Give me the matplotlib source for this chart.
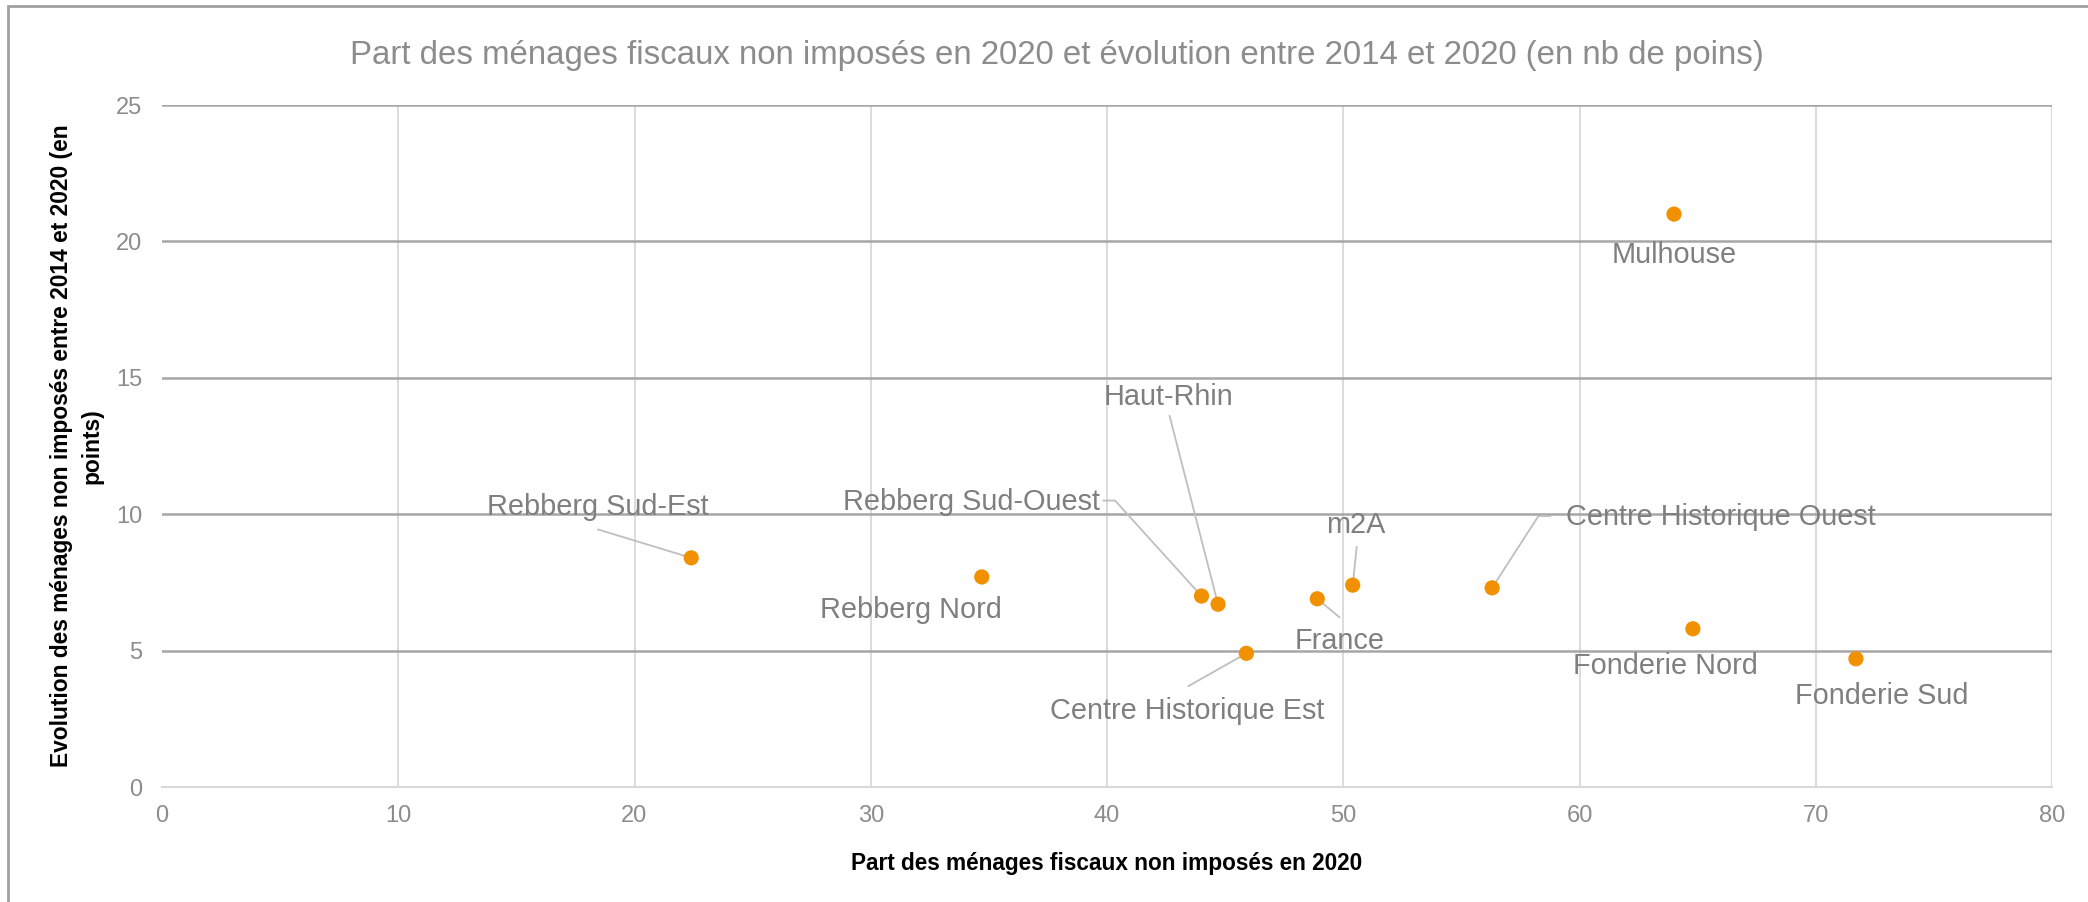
import matplotlib
matplotlib.use('Agg')
import matplotlib.pyplot as plt
from matplotlib import font_manager
from matplotlib.patches import Rectangle

# Data
names = ['Rebberg Sud-Est', 'Rebberg Nord', 'Rebberg Sud-Ouest', 'Haut-Rhin',
         'Centre Historique Est', 'France', 'm2A', 'Centre Historique Ouest',
         'Mulhouse', 'Fonderie Nord', 'Fonderie Sud']
part_2020 = [22.4, 34.7, 44.0, 44.7, 45.9, 48.9, 50.4, 56.3, 64.0, 64.8, 71.7]
evolution = [8.4, 7.7, 7.0, 6.7, 4.9, 6.9, 7.4, 7.3, 21.0, 5.8, 4.7]

x_ticks = [0, 10, 20, 30, 40, 50, 60, 70, 80]
y_ticks = [0, 5, 10, 15, 20, 25]

title = 'Part des ménages fiscaux non imposés en 2020 et évolution entre 2014 et 2020 (en nb de poins)'
xlabel = 'Part des ménages fiscaux non imposés en 2020'
ylabel = 'Evolution des ménages non imposés entre 2014 et 2020 (en\npoints)'

# label placement (data coords) and optional leader line path
label_pos = {
    'Rebberg Sud-Est': (18.45, 10.25, [(18.46, 9.44)]),
    'Rebberg Nord': (31.7, 6.5, None),
    'Rebberg Sud-Ouest': (34.25, 10.45, [(40.34, 10.5), (39.85, 10.5)]),
    'Haut-Rhin': (42.6, 14.3, [(42.65, 13.6)]),
    'Centre Historique Est': (43.4, 2.8, [(43.45, 3.7)]),
    'France': (49.85, 5.35, [(49.84, 6.22)]),
    'm2A': (50.55, 9.62, [(50.57, 8.8)]),
    'Centre Historique Ouest': (66.0, 9.9, [(58.26, 9.93), (58.76, 9.93)]),
    'Mulhouse': (64.0, 19.5, None),
    'Fonderie Nord': (63.65, 4.45, None),
    'Fonderie Sud': (72.8, 3.35, None),
}

available = {f.name for f in font_manager.fontManager.ttflist}
narrow = 'Liberation Sans Narrow' if 'Liberation Sans Narrow' in available else 'Liberation Sans'
plt.rcParams['font.family'] = [narrow, 'DejaVu Sans']

fig = plt.figure(figsize=(20.88, 9.02), dpi=100)
ax = fig.add_axes([162 / 2088, 1 - 787 / 902, (2052 - 162) / 2088, (787 - 105) / 902])

# outer chart border
fig.patches.append(Rectangle((8 / 2088, -0.1), 1.2, 0.1 + 1 - 6 / 902, transform=fig.transFigure,
                             fill=False, edgecolor='#A0A0A0', linewidth=2))

ax.set_xlim(0, 80)
ax.set_ylim(0, 25)
ax.set_xticks(x_ticks)
ax.set_yticks(y_ticks)
for xv in x_ticks[1:]:
    ax.axvline(xv, color='#D9D9D9', linewidth=1.3, zorder=0)
for yv in y_ticks[1:]:
    ax.axhline(yv, color='#A6A6A6', linewidth=1.8, zorder=0)
for s in ['top', 'right', 'left']:
    ax.spines[s].set_visible(False)
ax.spines['bottom'].set_color('#D9D9D9')
ax.spines['bottom'].set_linewidth(1.5)
ax.tick_params(length=0, labelsize=17, labelcolor='#8C8C8C')
ax.tick_params(axis='x', pad=13)
ax.tick_params(axis='y', pad=14)

for name, px, py in zip(names, part_2020, evolution):
    lx, ly, path = label_pos[name]
    if path:
        xs = [px] + [p[0] for p in path]
        ys = [py] + [p[1] for p in path]
        ax.plot(xs, ys, color='#BFBFBF', linewidth=1.3, zorder=1)
    ax.text(lx, ly, name, fontsize=20.8, color='#7F7F7F', ha='center', va='center', zorder=3)

ax.scatter(part_2020, evolution, s=120, color='#F29100', edgecolors='none', zorder=4)

fig.text(0.506, 0.938, title, fontsize=23.8, color='#8C8C8C', ha='center', va='center')
ax.set_xlabel(xlabel, fontsize=16.3, fontweight='bold', color='black', labelpad=18)
ax.set_ylabel(ylabel, fontsize=16.4, fontweight='bold', color='black', linespacing=1.45)
ax.yaxis.label.set_va('center')
ax.yaxis.set_label_coords(-0.0452, 0.5)

fig.savefig('out.png', dpi=100)
